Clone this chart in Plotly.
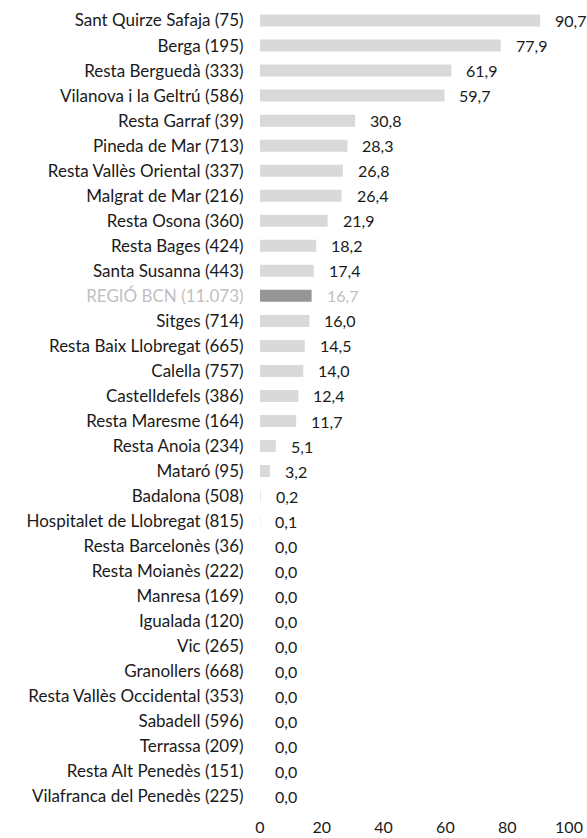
import plotly.graph_objects as go

categories = [
    "Sant Quirze Safaja (75)", "Berga (195)", "Resta Berguedà (333)",
    "Vilanova i la Geltrú (586)", "Resta Garraf (39)", "Pineda de Mar (713)",
    "Resta Vallès Oriental (337)", "Malgrat de Mar (216)", "Resta Osona (360)",
    "Resta Bages (424)", "Santa Susanna (443)", "REGIÓ BCN (11.073)",
    "Sitges (714)", "Resta Baix Llobregat (665)", "Calella (757)",
    "Castelldefels (386)", "Resta Maresme (164)", "Resta Anoia (234)",
    "Mataró (95)", "Badalona (508)", "Hospitalet de Llobregat (815)",
    "Resta Barcelonès (36)", "Resta Moianès (222)", "Manresa (169)",
    "Igualada (120)", "Vic (265)", "Granollers (668)",
    "Resta Vallès Occidental (353)", "Sabadell (596)", "Terrassa (209)",
    "Resta Alt Penedès (151)", "Vilafranca del Penedès (225)",
]
values = [90.7, 77.9, 61.9, 59.7, 30.8, 28.3, 26.8, 26.4, 21.9, 18.2, 17.4, 16.7,
          16.0, 14.5, 14.0, 12.4, 11.7, 5.1, 3.2, 0.2, 0.1, 0.0, 0.0, 0.0,
          0.0, 0.0, 0.0, 0.0, 0.0, 0.0, 0.0, 0.0]
highlight = "REGIÓ BCN (11.073)"
x_ticks = [0, 20, 40, 60, 80, 100]

FONT = "Lato"
bar_colors = ["#969696" if c == highlight else "#d9d9d9" for c in categories]
ticktext = [f'<span style="color:#bfbfbf">{c}</span>' if c == highlight else c for c in categories]

fig = go.Figure(go.Bar(
    y=categories, x=values, orientation="h",
    marker=dict(color=bar_colors, line=dict(width=0)),
    hoverinfo="skip",
))

for c, v in zip(categories, values):
    fig.add_annotation(
        x=v, y=c, text=f"{v:.1f}".replace(".", ","),
        xanchor="left", xshift=13, showarrow=False,
        font=dict(family=FONT, size=16, color="#bfbfbf" if c == highlight else "#1a1a1a"),
    )

fig.update_layout(
    width=587, height=838,
    margin=dict(l=260, r=18, t=8, b=29),
    paper_bgcolor="white", plot_bgcolor="white",
    bargap=0.52, showlegend=False,
    font=dict(family=FONT, size=16, color="#1a1a1a"),
)
fig.update_xaxes(range=[0, 100], tickvals=x_ticks, ticktext=[str(t) for t in x_ticks],
                 showgrid=False, zeroline=False, showline=False,
                 ticks="outside", ticklen=4, tickcolor="rgba(0,0,0,0)",
                 automargin=False, tickfont=dict(family=FONT, size=16))
fig.update_yaxes(categoryorder="array", categoryarray=categories, autorange="reversed",
                 tickvals=categories, ticktext=ticktext,
                 showgrid=False, zeroline=False, showline=False,
                 ticks="outside", ticklen=12, tickcolor="rgba(0,0,0,0)",
                 automargin=False, tickfont=dict(family=FONT, size=17))

fig.write_html(
    "out.html",
    config={"displayModeBar": False, "staticPlot": True},
    post_script="document.body.style.margin='0';document.body.style.overflow='hidden';",
)
